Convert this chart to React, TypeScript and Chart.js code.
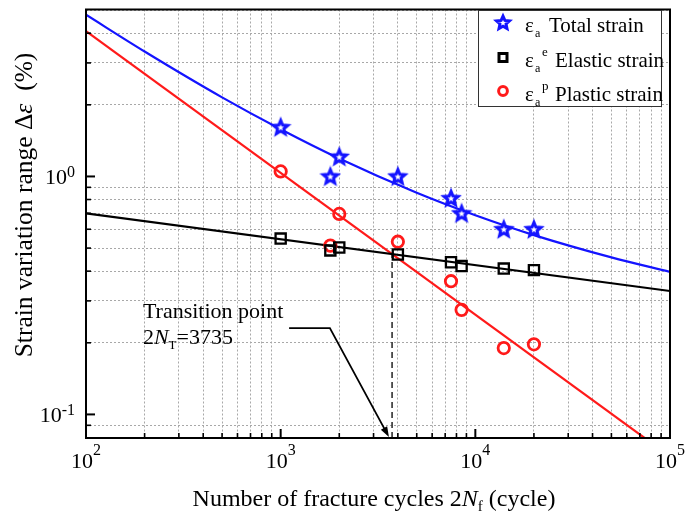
import React, { useEffect, useRef } from 'react';
import { Chart, registerables } from 'chart.js';

Chart.register(...registerables);

// ---- data ----
const cycles = [1000, 1800, 2000, 4000, 7500, 8500, 14000, 20000];
const totalStrain = [1.61, 1.0, 1.21, 1.0, 0.81, 0.7, 0.6, 0.6];
const elasticStrain = [0.548, 0.489, 0.503, 0.47, 0.436, 0.42, 0.41, 0.404];
const plasticStrain = [1.05, 0.512, 0.696, 0.532, 0.363, 0.275, 0.19, 0.197];

const totalFitCycles = [100, 200, 500, 1000, 2000, 5000, 10000, 20000, 50000, 100000];
const totalFit = [4.78, 3.35, 2.15, 1.58, 1.19, 0.854, 0.687, 0.567, 0.457, 0.397];
const elasticFitCycles = [100, 100000];
const elasticFit = [0.7, 0.33];
const plasticFitCycles = [100, 100000];
const plasticFit = [4.08, 0.0666];

const transitionCycles = 3735;
const transitionStrain = 0.472;

const xMin = 100;
const xMax = 100000;
const yMin = 0.0796;
const yMax = 5.03;
const xDecades = [100, 1000, 10000, 100000];
const xDecadeLabels = ['2', '3', '4', '5'];
const yDecades = [0.1, 1];
const yDecadeLabels = ['-1', '0'];
const minorMultipliers = [2, 3, 4, 5, 6, 7, 8, 9];
const yMinorExtra = [0.08, 0.09];

const xTickValues: number[] = [];
xDecades.forEach((d, i) => {
  xTickValues.push(d);
  if (i < xDecades.length - 1) minorMultipliers.forEach((m) => xTickValues.push(d * m));
});
const yTickValues: number[] = [...yMinorExtra];
yDecades.forEach((d) => {
  yTickValues.push(d);
  minorMultipliers.forEach((m) => {
    const v = d * m;
    if (v <= yMax) yTickValues.push(v);
  });
});

const BLUE = '#1414ff';
const RED = '#ff1a1a';
const SERIF = '"Liberation Serif", "Times New Roman", serif';

const isMajor = (v: number) => {
  const l = Math.log10(v);
  return Math.abs(l - Math.round(l)) < 1e-6;
};

const pts = (xs: number[], ys: number[]) => xs.map((x, i) => ({ x, y: ys[i] }));

function starPath(ctx: CanvasRenderingContext2D, cx: number, cy: number, R: number, r: number) {
  ctx.beginPath();
  for (let i = 0; i < 10; i++) {
    const a = -Math.PI / 2 + (i * Math.PI) / 5;
    const rad = i % 2 === 0 ? R : r;
    const px = cx + rad * Math.cos(a);
    const py = cy + rad * Math.sin(a);
    if (i === 0) ctx.moveTo(px, py);
    else ctx.lineTo(px, py);
  }
  ctx.closePath();
}

function makeStar(R: number, r: number, lw: number, color: string) {
  const size = Math.ceil(2 * R + lw + 4);
  const c = document.createElement('canvas');
  c.width = size;
  c.height = size;
  const ctx = c.getContext('2d')!;
  starPath(ctx, size / 2, size / 2 + 0.5, R, r);
  ctx.fillStyle = '#ffffff';
  ctx.fill();
  ctx.lineWidth = lw;
  ctx.lineJoin = 'miter';
  ctx.strokeStyle = color;
  ctx.stroke();
  return c;
}

type Part = { t: string; size: number; italic?: boolean; dy?: number };

function drawRich(ctx: CanvasRenderingContext2D, parts: Part[], x: number, y: number, align: 'left' | 'center' | 'right') {
  const fontOf = (p: Part) => `${p.italic ? 'italic ' : ''}${p.size}px ${SERIF}`;
  let total = 0;
  const widths = parts.map((p) => {
    ctx.font = fontOf(p);
    const w = ctx.measureText(p.t).width;
    total += w;
    return w;
  });
  let cx = align === 'center' ? x - total / 2 : align === 'right' ? x - total : x;
  ctx.textAlign = 'left';
  ctx.textBaseline = 'alphabetic';
  parts.forEach((p, i) => {
    ctx.font = fontOf(p);
    ctx.fillText(p.t, cx, y + (p.dy || 0));
    cx += widths[i];
  });
}

const decorPlugin = {
  id: 'decor',
  afterDraw(chart: any) {
    const ctx: CanvasRenderingContext2D = chart.ctx;
    const { left, right, top, bottom } = chart.chartArea;
    const xs = chart.scales.x;
    const ys = chart.scales.y;
    ctx.save();
    ctx.fillStyle = '#000';
    ctx.strokeStyle = '#000';

    // inward ticks
    xTickValues.forEach((v) => {
      const px = xs.getPixelForValue(v);
      if (px <= left + 1 || px >= right - 1) return;
      const major = isMajor(v);
      ctx.lineWidth = major ? 2 : 1.6;
      ctx.beginPath();
      ctx.moveTo(px, bottom);
      ctx.lineTo(px, bottom - (major ? 9 : 5));
      ctx.stroke();
    });
    yTickValues.forEach((v) => {
      const py = ys.getPixelForValue(v);
      if (py <= top + 1 || py >= bottom - 1) return;
      const major = isMajor(v);
      ctx.lineWidth = major ? 2 : 1.6;
      ctx.beginPath();
      ctx.moveTo(left, py);
      ctx.lineTo(left + (major ? 9 : 5), py);
      ctx.stroke();
    });

    // frame
    ctx.lineWidth = 2;
    ctx.strokeRect(left, top, right - left, bottom - top);

    // tick labels
    xDecades.forEach((v, i) => {
      drawRich(ctx, [{ t: '10', size: 22 }, { t: xDecadeLabels[i], size: 16, dy: -13 }], xs.getPixelForValue(v), 468, 'center');
    });
    yDecades.forEach((v, i) => {
      drawRich(ctx, [{ t: '10', size: 22 }, { t: yDecadeLabels[i], size: 16, dy: -7 }], left - 11, ys.getPixelForValue(v) + 8, 'right');
    });

    // axis titles
    drawRich(
      ctx,
      [
        { t: 'Number of fracture cycles 2', size: 24 },
        { t: 'N', size: 24, italic: true },
        { t: 'f', size: 15, dy: 5 },
        { t: ' (cycle)', size: 24 },
      ],
      (left + right) / 2 - 4,
      506,
      'center'
    );
    ctx.save();
    ctx.translate(32, 205);
    ctx.rotate(-Math.PI / 2);
    drawRich(
      ctx,
      [
        { t: 'Strain variation range Δ', size: 25.5 },
        { t: 'ε', size: 25.5, italic: true },
        { t: '  (%)', size: 25.5 },
      ],
      0,
      0,
      'center'
    );
    ctx.restore();

    // legend
    const lx = 478, ly = 10, lw = 183, lh = 96;
    ctx.fillStyle = '#fff';
    ctx.fillRect(lx, ly, lw, lh);
    ctx.lineWidth = 1;
    ctx.strokeStyle = '#333';
    ctx.strokeRect(lx + 0.5, ly + 0.5, lw, lh);
    const rows = [
      { sup: '', label: 'Total strain', textX: 549 },
      { sup: 'e', label: 'Elastic strain', textX: 555 },
      { sup: 'p', label: 'Plastic strain', textX: 555 },
    ];
    const baselines = [32, 66.5, 101];
    const mx = 503;
    // markers
    ctx.save();
    starPath(ctx, mx, baselines[0] - 9, 6.8, 3.2);
    ctx.fillStyle = '#fff';
    ctx.fill();
    ctx.lineWidth = 3;
    ctx.strokeStyle = BLUE;
    ctx.stroke();
    ctx.lineWidth = 3;
    ctx.strokeStyle = '#000';
    ctx.strokeRect(mx - 4, baselines[1] - 13, 8, 8);
    ctx.strokeStyle = RED;
    ctx.beginPath();
    ctx.arc(mx, baselines[2] - 10, 4.4, 0, Math.PI * 2);
    ctx.stroke();
    ctx.restore();
    ctx.fillStyle = '#000';
    rows.forEach((r, i) => {
      const b = baselines[i];
      drawRich(ctx, [{ t: 'ε', size: 21 }], 525, b, 'left');
      drawRich(ctx, [{ t: 'a', size: 12 }], 535, b + 5, 'left');
      if (r.sup) drawRich(ctx, [{ t: r.sup, size: 13 }], 542, b - 11, 'left');
      drawRich(ctx, [{ t: r.label, size: 21 }], r.textX, b, 'left');
    });

    // annotation text
    const tx = xs.getPixelForValue(196);
    const ty = ys.getPixelForValue(0.2535);
    drawRich(ctx, [{ t: 'Transition point', size: 22 }], tx, ty, 'left');
    drawRich(
      ctx,
      [
        { t: '2', size: 22 },
        { t: 'N', size: 22, italic: true },
        { t: 'T', size: 13, dy: 5 },
        { t: '=3735', size: 22 },
      ],
      tx,
      ty + 26,
      'left'
    );

    // arrow
    const arrow = [
      [1105, 0.2305],
      [1790, 0.2305],
      [3600, 0.0803],
    ].map(([a, b]) => [xs.getPixelForValue(a), ys.getPixelForValue(b)]);
    ctx.strokeStyle = '#000';
    ctx.lineWidth = 1.8;
    ctx.beginPath();
    ctx.moveTo(arrow[0][0], arrow[0][1]);
    ctx.lineTo(arrow[1][0], arrow[1][1]);
    const [ex, ey] = arrow[2];
    const ang = Math.atan2(ey - arrow[1][1], ex - arrow[1][0]);
    const headLen = 11;
    ctx.lineTo(ex - Math.cos(ang) * headLen * 0.8, ey - Math.sin(ang) * headLen * 0.8);
    ctx.stroke();
    ctx.fillStyle = '#000';
    ctx.beginPath();
    ctx.moveTo(ex, ey);
    ctx.lineTo(ex - headLen * Math.cos(ang - 0.33), ey - headLen * Math.sin(ang - 0.33));
    ctx.lineTo(ex - headLen * Math.cos(ang + 0.33), ey - headLen * Math.sin(ang + 0.33));
    ctx.closePath();
    ctx.fill();

    ctx.restore();
  },
};

export default function App() {
  const ref = useRef<HTMLCanvasElement | null>(null);

  useEffect(() => {
    document.body.style.margin = '0';
    const canvas = ref.current!;
    const star = makeStar(7.4, 3.3, 3, BLUE);
    const gridColor = (c: any) => (c.tick && isMajor(c.tick.value) ? 'rgba(0,0,0,0)' : '#a8a8a8');
    const chart = new Chart(canvas, {
      type: 'scatter',
      data: {
        datasets: [
          {
            label: 'Total strain',
            data: pts(cycles, totalStrain),
            pointStyle: star as any,
            pointRadius: 8,
            showLine: false,
          },
          {
            label: 'Elastic strain',
            data: pts(cycles, elasticStrain),
            pointStyle: 'rect',
            pointRadius: 7.2,
            pointBorderWidth: 2.3,
            pointBorderColor: '#000',
            pointBackgroundColor: 'rgba(255,255,255,0)',
            showLine: false,
          },
          {
            label: 'Plastic strain',
            data: pts(cycles, plasticStrain),
            pointStyle: 'circle',
            pointRadius: 5.7,
            pointBorderWidth: 2.8,
            pointBorderColor: RED,
            pointBackgroundColor: 'rgba(255,255,255,0)',
            showLine: false,
          },
          {
            label: 'Total fit',
            data: pts(totalFitCycles, totalFit),
            showLine: true,
            borderColor: BLUE,
            borderWidth: 2.2,
            pointRadius: 0,
            tension: 0.4,
            cubicInterpolationMode: 'monotone',
          },
          {
            label: 'Elastic fit',
            data: pts(elasticFitCycles, elasticFit),
            showLine: true,
            borderColor: '#000',
            borderWidth: 2.2,
            pointRadius: 0,
          },
          {
            label: 'Plastic fit',
            data: pts(plasticFitCycles, plasticFit),
            showLine: true,
            borderColor: RED,
            borderWidth: 2.2,
            pointRadius: 0,
          },
          {
            label: 'Transition',
            data: [
              { x: transitionCycles, y: yMin },
              { x: transitionCycles, y: transitionStrain },
            ],
            showLine: true,
            borderColor: '#222',
            borderWidth: 1.5,
            borderDash: [6, 4],
            pointRadius: 0,
          },
        ],
      },
      options: {
        responsive: false,
        animation: false,
        layout: { padding: { left: 86, right: 15, top: 3, bottom: 78 } },
        plugins: { legend: { display: false }, tooltip: { enabled: false } },
        scales: {
          x: {
            type: 'logarithmic',
            min: xMin,
            max: xMax,
            afterBuildTicks: (s: any) => {
              s.ticks = xTickValues.map((v) => ({ value: v }));
            },
            afterFit: (s: any) => {
              s.height = 0;
            },
            ticks: { display: false },
            grid: { color: gridColor, lineWidth: 1, drawTicks: false },
            border: { display: false, dash: [2, 2] },
          },
          y: {
            type: 'logarithmic',
            min: yMin,
            max: yMax,
            afterBuildTicks: (s: any) => {
              s.ticks = yTickValues.map((v) => ({ value: v }));
            },
            afterFit: (s: any) => {
              s.width = 0;
            },
            ticks: { display: false },
            grid: { color: gridColor, lineWidth: 1, drawTicks: false },
            border: { display: false, dash: [2, 2] },
          },
        },
      } as any,
      plugins: [decorPlugin],
    });
    return () => chart.destroy();
  }, []);

  return (
    <div style={{ width: 685, height: 516, background: '#fff' }}>
      <canvas ref={ref} width={685} height={516} style={{ display: 'block' }} />
    </div>
  );
}
